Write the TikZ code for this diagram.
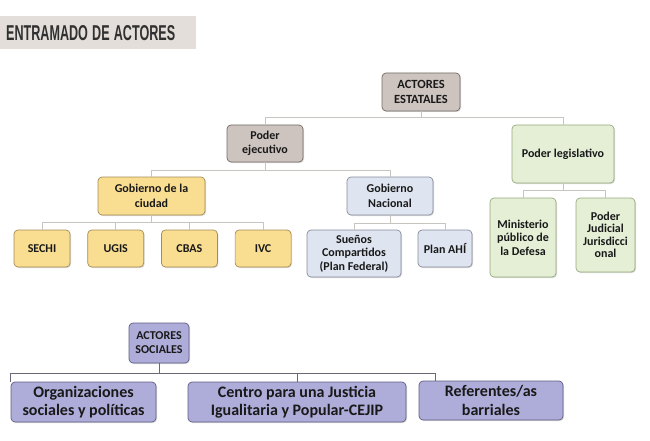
\documentclass[tikz,border=0pt]{standalone}
\usepackage{fontspec}
\setmainfont{Carlito}
\newfontfamily\titlefont{Liberation Sans}
\usepackage{graphicx}
\usepackage{tikz}
\usetikzlibrary{positioning,shadows}
\definecolor{acttext}{RGB}{25,25,25}
\definecolor{actgray}{RGB}{205,196,192}
\definecolor{actgrayline}{RGB}{115,105,100}
\definecolor{actgreen}{RGB}{228,239,214}
\definecolor{actgreenline}{RGB}{150,170,125}
\definecolor{actyellow}{RGB}{249,221,145}
\definecolor{actyellowline}{RGB}{165,140,85}
\definecolor{actblue}{RGB}{222,228,240}
\definecolor{actblueline}{RGB}{135,140,155}
\definecolor{actlilac}{RGB}{174,172,217}
\definecolor{actlilacline}{RGB}{95,94,130}
\definecolor{titlegray}{RGB}{227,222,217}
\definecolor{linkgray}{RGB}{200,196,192}
\definecolor{linkdark}{RGB}{105,105,115}
\tikzstyle{orgbox} = [rectangle, rounded corners=4pt, align=center, inner sep=1pt, line width=0.7pt, text=acttext, font=\bfseries\fontsize{12}{14.5}\selectfont, drop shadow={opacity=0.3, shadow xshift=1pt, shadow yshift=-1pt}]
\tikzstyle{graybox} = [orgbox, draw=actgrayline, fill=actgray]
\tikzstyle{greenbox} = [orgbox, draw=actgreenline, fill=actgreen]
\tikzstyle{yellowbox} = [orgbox, draw=actyellowline, fill=actyellow]
\tikzstyle{bluebox} = [orgbox, draw=actblueline, fill=actblue]
\tikzstyle{lilacbox} = [orgbox, draw=actlilacline, fill=actlilac, font=\bfseries\fontsize{16}{18.5}\selectfont]
\tikzstyle{link} = [line width=0.8pt, color=linkgray]
\tikzstyle{darklink} = [line width=0.9pt, color=linkdark]

\begin{document}
\begin{tikzpicture}[x=1pt, y=-1pt]
\useasboundingbox (0,0) rectangle (650,441);
\node[anchor=north west, fill=titlegray, minimum height=33pt, text width=184pt, inner xsep=6pt, inner ysep=0pt, align=left, text=acttext!90] (titulo) at (0,16) {\resizebox{169pt}{15pt}{\titlefont\bfseries ENTRAMADO DE ACTORES}};
% actores estatales
\node[graybox, minimum width=78pt, minimum height=38pt, font=\bfseries\fontsize{12.5}{15}\selectfont] (estatales) at (421,92) {ACTORES\\ESTATALES};
\node[graybox, minimum width=76pt, minimum height=37pt] (ejecutivo) at (265,143.5) {Poder\\ejecutivo};
\node[greenbox, minimum width=102pt, minimum height=58pt] (legislativo) at (563,154) {Poder legislativo};
\node[yellowbox, minimum width=107pt, minimum height=38pt] (ciudad) at (151.5,196) {Gobierno de la\\ciudad};
\node[bluebox, minimum width=86pt, minimum height=38pt] (nacional) at (390,196) {Gobierno\\Nacional};
\node[yellowbox, minimum width=56pt, minimum height=37pt] (sechi) at (42,248.5) {SECHI};
\node[yellowbox, minimum width=56pt, minimum height=37pt, right=17pt of sechi] (ugis) {UGIS};
\node[yellowbox, minimum width=56pt, minimum height=37pt, right=17pt of ugis] (cbas) {CBAS};
\node[yellowbox, minimum width=56pt, minimum height=37pt, right=17pt of cbas] (ivc) {IVC};
\node[bluebox, minimum width=94pt, minimum height=47pt, font=\bfseries\fontsize{12}{13.5}\selectfont] (suenos) at (354,253.5) {Sueños\\Compartidos\\(Plan Federal)};
\node[bluebox, minimum width=54pt, minimum height=37pt] (planahi) at (445,248.5) {Plan AHÍ};
\node[greenbox, minimum width=66pt, minimum height=79pt, font=\bfseries\fontsize{12}{13.5}\selectfont] (ministerio) at (523,237.5) {Ministerio\\público de\\la Defesa};
\node[greenbox, minimum width=59pt, minimum height=74pt, font=\bfseries\fontsize{12}{12.5}\selectfont] (judicial) at (605.5,235) {Poder\\Judicial\\Jurisdicci\\onal};
% actores sociales
\node[lilacbox, minimum width=60pt, minimum height=40pt, font=\bfseries\fontsize{12}{14}\selectfont] (sociales) at (159,343) {ACTORES\\SOCIALES};
\node[lilacbox, minimum width=145pt, minimum height=40pt] (organizaciones) at (83.5,402) {Organizaciones\\sociales y políticas};
\node[lilacbox, minimum width=218pt, minimum height=40pt] (cejip) at (297,402) {Centro para una Justicia\\Igualitaria y Popular-CEJIP};
\node[lilacbox, minimum width=144pt, minimum height=39pt] (referentes) at (491,400.5) {Referentes/as\\barriales};
% conectores
\draw[link] (estatales.south) -- ++(0,6) -| (ejecutivo);
\draw[link] (estatales.south) -- ++(0,6) -| (legislativo);
\draw[link] (ejecutivo.south) -- ++(0,8) -| (ciudad);
\draw[link] (ejecutivo.south) -- ++(0,8) -| (nacional);
\foreach \n in {sechi,ugis,cbas,ivc}
  \draw[link] (ciudad.south) -- ++(0,7) -| (\n);
\foreach \n in {suenos,planahi}
  \draw[link] (nacional.south) -- ++(0,8) -| (\n);
\foreach \n in {ministerio,judicial}
  \draw[link] (legislativo.south) -- ++(0,7) -| (\n);
\draw[darklink] (sociales.south) -- ++(0,10) -| (organizaciones.north west);
\draw[darklink] (sociales.south) -- ++(0,10) -| (cejip);
\draw[darklink] (sociales.south) -- ++(0,10) -| ([xshift=-56pt]referentes.north);
\end{tikzpicture}
\end{document}
